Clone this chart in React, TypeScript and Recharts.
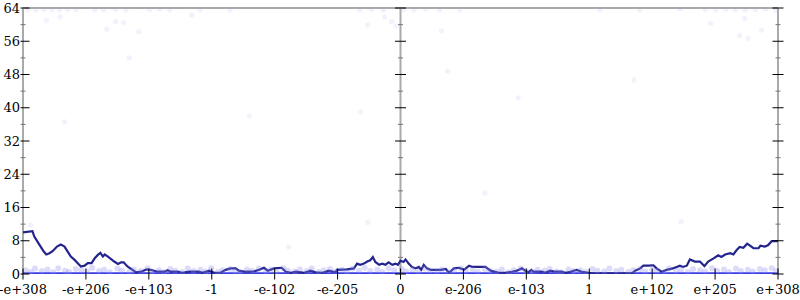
import { ComposedChart, Line, Scatter, XAxis, YAxis, ReferenceLine } from 'recharts';

// x positions: -6 .. 6 map onto the 13 tick labels
const tickPositions = [-6, -5, -4, -3, -2, -1, 0, 1, 2, 3, 4, 5, 6];
const tickLabels = ['-e+308', '-e+206', '-e+103', '-1', '-e-102', '-e-205', '0', 'e-206', 'e-103', '1', 'e+102', 'e+205', 'e+308'];
const yTicks = [0, 4, 8, 12, 16, 20, 24, 28, 32, 36, 40, 44, 48, 52, 56, 60, 64];

// main (dark) series
const lineX = [
  -6.0, -5.85, -5.82, -5.77, -5.72, -5.67, -5.63, -5.58, -5.53, -5.46, -5.4, -5.34, -5.29, -5.24, -5.18, -5.13,
  -5.08, -5.02, -4.97, -4.91, -4.86, -4.81, -4.77, -4.73, -4.7, -4.65, -4.6, -4.55, -4.49, -4.44, -4.4, -4.34,
  -4.26, -4.2, -4.12, -4.04, -3.97, -3.86, -3.75, -3.7, -3.65, -3.54, -3.47, -3.36, -3.2, -3.15, -3.04, -2.96,
  -2.86, -2.78, -2.7, -2.62, -2.57, -2.46, -2.35, -2.25, -2.17, -2.11, -2.01, -1.89, -1.82, -1.74, -1.66, -1.53,
  -1.43, -1.35, -1.24, -1.14, -1.03, -1.01, -0.85, -0.74, -0.69, -0.64, -0.58, -0.53, -0.48, -0.44, -0.4, -0.34,
  -0.29, -0.24, -0.19, -0.13, -0.08, -0.04, 0.0, 0.05, 0.08, 0.13, 0.18, 0.24, 0.29, 0.33, 0.37, 0.42,
  0.48, 0.64, 0.72, 0.77, 0.85, 0.93, 1.01, 1.09, 1.14, 1.24, 1.35, 1.43, 1.56, 1.66, 1.77, 1.85,
  1.93, 1.98, 2.03, 2.08, 2.11, 2.25, 2.3, 2.38, 2.46, 2.56, 2.62, 2.7, 2.8, 2.88, 2.99, 3.04,
  3.68, 3.73, 3.81, 3.86, 3.94, 4.02, 4.07, 4.15, 4.23, 4.33, 4.39, 4.44, 4.49, 4.55, 4.6, 4.68,
  4.76, 4.83, 4.89, 4.97, 5.05, 5.1, 5.16, 5.24, 5.29, 5.34, 5.39, 5.45, 5.51, 5.55, 5.61, 5.69,
  5.72, 5.79, 5.84, 5.9, 6.0,
];
const lineY = [
  10.0, 10.3, 9.0, 7.8, 6.6, 5.4, 4.7, 5.0, 5.5, 6.6, 7.1, 6.6, 5.4, 4.2, 3.4, 2.6,
  1.8, 2.0, 2.6, 2.6, 3.8, 4.6, 5.1, 4.2, 4.7, 4.2, 3.6, 3.0, 2.4, 2.8, 2.8, 1.8,
  1.0, 0.4, 0.55, 1.1, 1.0, 0.55, 0.55, 0.9, 0.55, 0.55, 0.3, 0.55, 0.55, 0.3, 0.8, 0.3,
  0.3, 1.0, 1.35, 1.35, 0.8, 0.55, 0.55, 1.0, 1.5, 0.8, 1.35, 1.5, 0.55, 0.3, 0.55, 0.3,
  0.8, 0.4, 0.3, 0.8, 0.4, 1.0, 1.1, 1.35, 2.5, 2.2, 2.5, 3.0, 3.3, 4.1, 2.9, 2.2,
  2.5, 2.2, 2.8, 2.2, 2.5, 2.2, 3.2, 2.9, 3.5, 2.5, 1.7, 1.35, 1.7, 1.0, 2.2, 1.35,
  1.0, 1.0, 1.2, 0.3, 1.35, 1.5, 1.0, 2.0, 1.7, 1.7, 1.7, 0.8, 0.3, 0.3, 0.55, 0.8,
  1.35, 0.8, 0.4, 1.0, 0.55, 0.55, 0.3, 0.8, 0.55, 0.55, 0.3, 0.55, 1.0, 0.55, 0.3, 0.15,
  0.15, 0.8, 1.35, 2.0, 2.0, 2.1, 1.35, 0.55, 1.0, 1.35, 1.7, 2.0, 1.7, 2.0, 3.5, 3.0,
  3.0, 1.9, 3.0, 3.7, 4.5, 4.1, 4.7, 5.0, 4.7, 5.7, 6.5, 6.3, 7.3, 6.9, 6.2, 6.2,
  6.8, 6.6, 6.9, 7.9, 7.9,
];

// bright baseline series
const baseX = [-6, 6];
const baseY = [0.1, 0.1];

// faint scatter points
const dotX = [
  -5.93, -5.8, -5.67, -5.54, -5.42, -5.29, -5.16, -4.86, -4.72, -4.53, -4.37, -3.99, -3.83, -3.67, -3.19, -2.71,
  -0.65, -0.46, -0.27, 0.05, 0.21, 0.4, 0.62, 0.94, 3.17, 3.8, 4.44, 4.84, 5.01, 5.17, 5.32, 5.48, 5.64, 5.8, 5.96,
  -5.63, -5.41, -4.67, -4.53, -4.4, -4.16, -4.31, -3.32, -5.34, -2.4, -0.63, 1.87, 3.71, -0.52, -0.25, -0.14,
  -0.07, 0.65, 4.93, 5.47, 5.39, 5.52, 5.74, -5.88, -0.52, -1.78, 4.46, 0.75, 1.34,
];
const dotY = [
  63.6, 63.5, 63.7, 63.6, 63.5, 63.7, 63.6, 63.5, 63.6, 63.7, 63.5, 63.6, 63.7, 63.5, 63.6, 63.5,
  63.6, 63.7, 63.5, 63.6, 63.5, 63.7, 63.6, 63.5, 63.6, 63.5, 63.7, 63.6, 63.5, 63.7, 63.6, 63.5, 63.6, 63.7, 63.5,
  61.0, 61.9, 58.9, 60.7, 60.5, 58.3, 52.0, 62.3, 36.6, 38.0, 39.0, 42.4, 46.7, 59.9, 61.9, 60.7,
  59.7, 58.5, 60.3, 61.5, 57.4, 56.7, 58.7, 11.8, 12.4, 6.5, 12.6, 48.8, 19.5,
];
const bandX = [
  -5.96, -5.88, -5.81, -5.7, -5.61, -5.52, -5.44, -5.33, -5.27, -5.16, -5.07, -4.98, -4.9, -4.79, -4.71, -4.62,
  -4.5, -4.43, -4.31, -4.24, -4.13, -4.02, -3.95, -3.84, -3.76, -3.66, -3.58, -3.47, -3.38, -3.29, -3.18, -3.1,
  -3.01, -2.9, -2.83, -2.71, -2.63, -2.55, -2.44, -2.36, -2.25, -2.14, -2.06, -1.97, -1.86, -1.79, -1.68, -1.6,
  -1.49, -1.41, -1.3, -1.22, -1.12, -1.03, -0.93, -0.85, -0.76, -0.66, -0.57, -0.48, -0.37, -0.29, -0.19, -0.1,
  0.02, 0.09, 0.19, 0.28, 0.39, 0.47, 0.58, 0.66, 0.77, 0.85, 0.96, 1.04, 1.15, 1.23, 1.34, 1.42,
  1.53, 1.61, 1.72, 1.8, 1.91, 1.99, 2.1, 2.18, 2.29, 2.37, 2.48, 2.56, 2.67, 2.75, 2.86, 2.94,
  3.05, 3.13, 3.24, 3.32, 3.43, 3.51, 3.62, 3.7, 3.81, 3.89, 4.0, 4.08, 4.19, 4.27, 4.38, 4.46,
  4.57, 4.65, 4.76, 4.84, 4.95, 5.03, 5.14, 5.22, 5.33, 5.41, 5.52, 5.6, 5.71, 5.79, 5.9, 5.97,
];
const bandY = [
  0.9, 0.5, 1.3, 0.7, 1.1, 0.4, 1.4, 0.8, 0.5, 1.2, 0.9, 0.6, 1.5, 0.7, 1.0, 0.4,
  1.3, 0.8, 0.5, 1.1, 0.7, 1.4, 0.6, 0.9, 0.4, 1.2, 0.8, 0.5, 1.3, 0.7, 1.0, 0.6,
  1.4, 0.5, 0.9, 1.2, 0.7, 0.4, 1.1, 0.8, 1.3, 0.6, 1.0, 0.5, 1.4, 0.8, 0.6, 1.1,
  0.7, 1.3, 0.5, 0.9, 1.2, 0.6, 1.0, 0.4, 1.3, 0.8, 1.5, 0.7, 1.1, 0.5, 1.4, 0.9,
  1.2, 0.6, 1.0, 0.5, 1.3, 0.8, 0.6, 1.1, 0.4, 0.9, 1.3, 0.7, 1.0, 0.5, 1.2, 0.8,
  0.6, 1.1, 0.4, 0.9, 1.3, 0.7, 0.5, 1.0, 0.8, 1.2, 0.6, 0.4, 1.1, 0.7, 0.9, 0.5,
  1.2, 0.8, 0.6, 1.3, 0.7, 1.0, 0.5, 0.9, 1.2, 0.6, 1.1, 0.8, 0.4, 1.3, 0.7, 1.0,
  0.5, 1.2, 0.9, 0.6, 1.4, 0.8, 1.1, 0.5, 1.3, 0.7, 1.0, 0.6, 1.2, 0.9, 1.4, 0.7,
];

const lineData = lineX.map((x, i) => ({ x, v: lineY[i] }));
const baseData = baseX.map((x, i) => ({ x, v: baseY[i] }));
const dotData = dotX.map((x, i) => ({ x, v: dotY[i] }));
const bandData = bandX.map((x, i) => ({ x, v: bandY[i] }));

const FONT = 'DejaVu Serif';
const PLOT_W = 755;

function XTick(props: any) {
  const { x, y, index } = props;
  return (
    <g>
      <line x1={x} x2={x} y1={y - 5.5} y2={y + 5.5} stroke="#000" strokeWidth={1} />
      <text x={x} y={y + 20} textAnchor="middle" fontFamily={FONT} fontSize={13} fill="#000">
        {tickLabels[index]}
      </text>
    </g>
  );
}

function YTick(props: any) {
  const { x, y, payload } = props;
  const major = payload.value % 8 === 0;
  const half = major ? 5.5 : 2.5;
  const color = major ? '#000' : '#777';
  return (
    <g>
      {/* same ticks on left, centre and right axes */}
      <line x1={x - 2.5} x2={x + (major ? 6.5 : 2.5)} y1={y} y2={y} stroke={color} strokeWidth={1} />
      <line x1={x + PLOT_W / 2 - half} x2={x + PLOT_W / 2 + half} y1={y} y2={y} stroke={color} strokeWidth={1} />
      <line x1={x + PLOT_W - half} x2={x + PLOT_W + half} y1={y} y2={y} stroke={color} strokeWidth={1} />
      {major && (
        <text x={x - 3} y={y + 4.5} textAnchor="end" fontFamily={FONT} fontSize={13} fill="#000">
          {payload.value}
        </text>
      )}
    </g>
  );
}

const FaintDot = (p: any) => <circle cx={p.cx} cy={p.cy} r={2.6} fill="#a0a0f0" fillOpacity={0.14} />;
const BandDot = (p: any) => <circle cx={p.cx} cy={p.cy} r={3} fill="#8c8cf0" fillOpacity={0.3} />;

export default function App() {
  return (
    <div style={{ position: 'absolute', left: 0, top: 0, width: 800, height: 300, background: '#fff' }}>
      <ComposedChart width={800} height={300} margin={{ top: 8, right: 22, bottom: 0, left: 0 }}>
        <XAxis
          type="number"
          dataKey="x"
          domain={[-6, 6]}
          ticks={tickPositions}
          interval={0}
          height={26}
          axisLine={false}
          tickLine={false}
          tickSize={0}
          tickMargin={0}
          tick={<XTick />}
          allowDataOverflow
        />
        <YAxis
          type="number"
          domain={[0, 64]}
          ticks={yTicks}
          interval={0}
          width={23}
          axisLine={false}
          tickLine={false}
          tickSize={0}
          tickMargin={0}
          tick={<YTick />}
          allowDataOverflow
        />
        <ReferenceLine y={64} stroke="#aaa" strokeWidth={2} />
        <ReferenceLine x={-6} stroke="#aaa" strokeWidth={2} />
        <ReferenceLine x={0} stroke="#aaa" strokeWidth={2} />
        <ReferenceLine x={6} stroke="#aaa" strokeWidth={2} />
        <Scatter data={dotData} dataKey="v" shape={FaintDot} isAnimationActive={false} />
        <Scatter data={bandData} dataKey="v" shape={BandDot} isAnimationActive={false} />
        <Line data={baseData} dataKey="v" type="linear" stroke="#3c3ce6" strokeWidth={2.5} dot={false} isAnimationActive={false} />
        <Line data={lineData} dataKey="v" type="linear" stroke="#24248f" strokeWidth={2.2} dot={false} isAnimationActive={false} />
      </ComposedChart>
    </div>
  );
}
